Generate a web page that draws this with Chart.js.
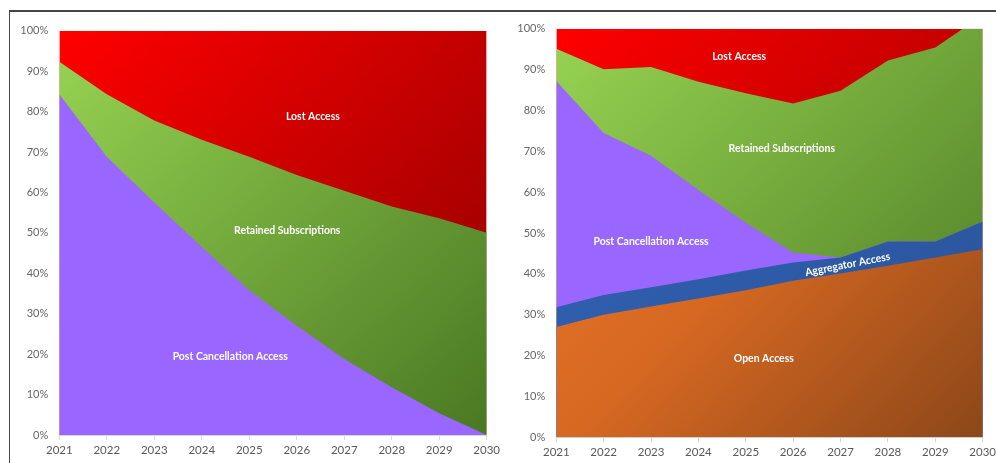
<!DOCTYPE html>
<html>
<head>
<meta charset="utf-8">
<script src="https://cdn.jsdelivr.net/npm/chart.js@4.4.1/dist/chart.umd.min.js"></script>
<style>
  html, body { margin:0; padding:0; background:#fff; width:996px; height:463px; overflow:hidden; position:relative; }
  .wrap { position:absolute; top:0; height:463px; width:520px; }
  #w1 { left:0; z-index:1; }
  #w2 { left:496px; z-index:2; }
  .frameTop { position:absolute; left:9px; top:10px; width:990px; height:1.5px; background:#454545; z-index:5; }
  .frameLeft { position:absolute; left:8.5px; top:10px; width:1.5px; height:460px; background:#454545; z-index:5; }
</style>
</head>
<body>
<div class="frameTop"></div>
<div class="frameLeft"></div>
<div class="wrap" id="w1"><canvas id="c1" width="520" height="463"></canvas></div>
<div class="wrap" id="w2"><canvas id="c2" width="520" height="463"></canvas></div>
<script>
// ---------- DATA ----------
const years = ['2021','2022','2023','2024','2025','2026','2027','2028','2029','2030'];
const yTicks = [0,10,20,30,40,50,60,70,80,90,100];

// Left chart (%)
const leftPostCancellation = [84.3, 68.8, 57.5, 46.5, 35.8, 27.0, 18.8, 11.8, 5.4, 0];
const leftRetained         = [8.0, 15.5, 20.3, 26.5, 33.0, 37.3, 41.6, 44.7, 48.2, 50.0];
const leftLost             = [7.7, 15.7, 22.2, 27.0, 31.2, 35.7, 39.6, 43.5, 46.4, 50.0];

// Right chart (%)
const rightOpen            = [27.0, 30.0, 32.0, 34.0, 36.0, 38.3, 40.1, 42.0, 44.0, 46.0];
const rightAggregator      = [4.8, 4.8, 4.7, 4.7, 4.8, 4.5, 3.9, 5.9, 3.9, 6.8];
const rightPostCancellation= [55.4, 39.7, 32.2, 21.8, 11.7, 2.4, 0, 0, 0, 0];
const rightRetained        = [7.9, 15.6, 21.7, 26.5, 31.7, 36.5, 40.8, 44.3, 47.5, 50.5];
const rightLost            = [4.9, 9.9, 9.4, 13.0, 15.8, 18.3, 15.2, 7.8, 4.6, 0];

// Area label annotations: [text, category index, value %, rotation deg]
const leftLabels = [
  ['Lost Access', 5.34, 78.9, 0],
  ['Retained Subscriptions', 4.8, 50.7, 0],
  ['Post Cancellation Access', 3.6, 19.5, 0]
];
const rightLabels = [
  ['Lost Access', 3.86, 93.3, 0],
  ['Retained Subscriptions', 4.76, 70.8, 0],
  ['Post Cancellation Access', 2.0, 48.0, 0],
  ['Aggregator Access', 6.15, 42.3, -11],
  ['Open Access', 4.38, 19.2, 0]
];

// ---------- STYLE ----------
function grad(stops, fallback) {
  return (context) => {
    const chart = context.chart;
    const area = chart.chartArea;
    if (!area) return fallback;
    const g = chart.ctx.createLinearGradient(area.left, area.top, area.right, area.bottom);
    stops.forEach(s => g.addColorStop(s[0], s[1]));
    return g;
  };
}
const RED = grad([[0,'#ff0000'],[1,'#8c0000']], '#d00000');
const GREEN = grad([[0,'#97d452'],[1,'#4a7823']], '#7ab33e');
const PURPLE = '#9966ff';
const ORANGE = grad([[0,'#f27a2a'],[0.5,'#d66822'],[1,'#8c4719']], '#d0652a');
const BLUE = grad([[0,'#3264b6'],[1,'#2a539a']], '#2e5caa');

function ds(label, data, color) {
  return { label, data, backgroundColor: color, borderWidth: 0, pointRadius: 0, pointHoverRadius: 0, fill: 'origin', tension: 0 };
}

const labelPlugin = (labels) => ({
  id: 'areaLabels',
  afterDatasetsDraw(chart) {
    const ctx = chart.ctx;
    const xs = chart.scales.x, ys = chart.scales.y;
    ctx.save();
    ctx.fillStyle = '#ffffff';
    ctx.font = 'bold 11px Lato';
    ctx.textAlign = 'center';
    ctx.textBaseline = 'middle';
    labels.forEach(([t, xi, yv, rot]) => {
      const x = xs.getPixelForValue(xi);
      const y = ys.getPixelForValue(yv);
      ctx.save();
      ctx.translate(x, y);
      ctx.rotate(rot * Math.PI / 180);
      ctx.scale(0.95, 1);
      ctx.fillText(t, 0, 0);
      ctx.restore();
    });
    ctx.restore();
  }
});

function makeOptions(yWidth, xHeight, padTop, padRight) {
  return {
    responsive: false,
    animation: false,
    events: [],
    layout: { padding: { left: 0, top: padTop, right: padRight, bottom: 0 } },
    plugins: { legend: { display: false }, tooltip: { enabled: false } },
    scales: {
      x: {
        type: 'category',
        offset: false,
        grid: { display: true, drawOnChartArea: false, drawTicks: true, tickLength: 5, color: '#d9d9d9' },
        border: { display: true, color: '#d9d9d9' },
        ticks: { color: '#595959', font: { family: 'Lato', size: 11.5 }, padding: 3, maxRotation: 0, autoSkip: false },
        afterFit: (s) => { s.height = xHeight; }
      },
      y: {
        stacked: true,
        min: 0, max: 100,
        afterBuildTicks: (s) => { s.ticks = yTicks.map(v => ({ value: v })); },
        grid: { display: false, drawTicks: false },
        border: { display: false },
        ticks: { color: '#666666', font: { family: 'Lato', size: 11 }, padding: 11, callback: v => v + '%' },
        afterFit: (s) => { s.width = yWidth; }
      }
    }
  };
}

new Chart(document.getElementById('c1'), {
  type: 'line',
  data: {
    labels: years,
    datasets: [
      ds('Post Cancellation Access', leftPostCancellation, PURPLE),
      ds('Retained Subscriptions', leftRetained, GREEN),
      ds('Lost Access', leftLost, RED)
    ]
  },
  options: makeOptions(59.3, 28, 30.7, 33.3),
  plugins: [labelPlugin(leftLabels)]
});

new Chart(document.getElementById('c2'), {
  type: 'line',
  data: {
    labels: years,
    datasets: [
      ds('Open Access', rightOpen, ORANGE),
      ds('Aggregator Access', rightAggregator, BLUE),
      ds('Post Cancellation Access', rightPostCancellation, PURPLE),
      ds('Retained Subscriptions', rightRetained, GREEN),
      ds('Lost Access', rightLost, RED)
    ]
  },
  options: makeOptions(60.3, 25.7, 28.7, 33.3),
  plugins: [labelPlugin(rightLabels)]
});
</script>
</body>
</html>
